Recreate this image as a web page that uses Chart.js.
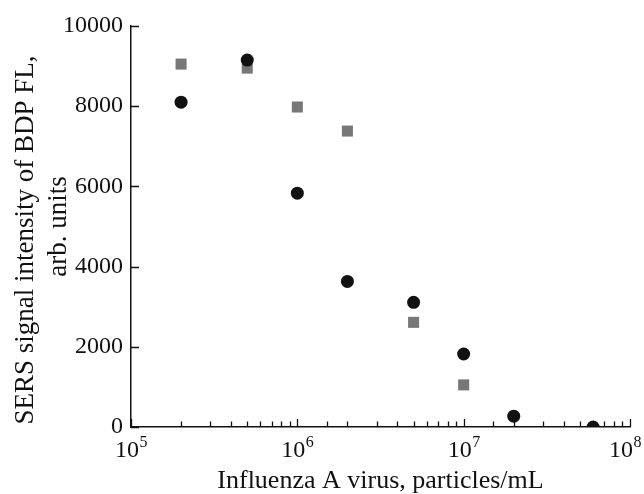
<!DOCTYPE html>
<html>
<head>
<meta charset="utf-8">
<script src="https://cdn.jsdelivr.net/npm/chart.js@4/dist/chart.umd.min.js"></script>
<style>
  html, body { margin: 0; padding: 0; background: #fff; }
  canvas { display: block; }
</style>
</head>
<body>
<canvas id="chart" width="644" height="494"></canvas>
<script>
// virus concentration, particles/mL
const concentrations = [2e5, 5e5, 1e6, 2e6, 5e6, 1e7, 2e7, 6e7];
// black circles
const circleValues = [8100, 9150, 5830, 3630, 3110, 1820, 270, 0];
// gray squares (last two hidden behind circles)
const squareValues = [9050, 8950, 7980, 7380, 2610, 1050, null, null];
const yTicks = [0, 2000, 4000, 6000, 8000, 10000];
const xTitle = 'Influenza A virus, particles/mL';
// trailing spaces nudge the first line down like in the original figure
const yTitle = ['SERS signal intensity of BDP FL,    ', 'arb. units'];

const serif = "'Liberation Serif', 'Times New Roman', 'DejaVu Serif', serif";

function toPoints(values) {
  return concentrations.map((x, i) => ({ x: x, y: values[i] })).filter(p => p.y !== null);
}

function isDecade(v) {
  const lg = Math.log10(v);
  return Math.abs(lg - Math.round(lg)) < 1e-9;
}

// ticks drawn inward from the axes, plus 10^n labels with real superscripts
const innerTicks = {
  id: 'innerTicks',
  beforeDatasetsDraw(chart) {
    const ctx = chart.ctx;
    const xs = chart.scales.x;
    const ys = chart.scales.y;
    ctx.save();
    ctx.strokeStyle = '#111';
    ctx.lineWidth = 1.3;
    ctx.beginPath();
    xs.ticks.forEach(t => {
      const px = Math.round(xs.getPixelForValue(t.value)) + 0.5;
      const len = isDecade(t.value) ? 8 : 5.5;
      ctx.moveTo(px, xs.top);
      ctx.lineTo(px, xs.top - len);
    });
    ys.ticks.forEach(t => {
      const py = Math.round(ys.getPixelForValue(t.value)) + 0.5;
      ctx.moveTo(ys.right, py);
      ctx.lineTo(ys.right + 8, py);
    });
    ctx.stroke();
    ctx.restore();
  },
  afterDraw(chart) {
    const ctx = chart.ctx;
    const xs = chart.scales.x;
    ctx.save();
    ctx.fillStyle = '#111';
    ctx.textBaseline = 'alphabetic';
    ctx.textAlign = 'left';
    xs.ticks.forEach(t => {
      if (!isDecade(t.value)) return;
      const exp = String(Math.round(Math.log10(t.value)));
      const px = xs.getPixelForValue(t.value);
      ctx.font = '24px ' + serif;
      const wb = ctx.measureText('10').width;
      ctx.font = '16px ' + serif;
      const we = ctx.measureText(exp).width;
      // keep the last label inside the canvas
      const x0 = Math.min(px - (wb + we) / 2, chart.width - 3 - wb - we);
      ctx.font = '24px ' + serif;
      ctx.fillText('10', x0, xs.top + 30);
      ctx.font = '16px ' + serif;
      ctx.fillText(exp, x0 + wb + 0.5, xs.top + 20);
    });
    ctx.restore();
  }
};

new Chart(document.getElementById('chart'), {
  type: 'scatter',
  data: {
    datasets: [
      {
        label: 'circles',
        data: toPoints(circleValues),
        order: 0,
        pointStyle: 'circle',
        pointRadius: 6.5,
        pointBorderWidth: 0,
        backgroundColor: '#111',
        borderColor: '#111'
      },
      {
        label: 'squares',
        data: toPoints(squareValues),
        order: 1,
        pointStyle: 'rect',
        pointRadius: 7.8,
        pointBorderWidth: 0,
        backgroundColor: '#777',
        borderColor: '#777'
      }
    ]
  },
  options: {
    responsive: false,
    animation: false,
    layout: { padding: { left: 0, top: 26, right: 14, bottom: 0 } },
    plugins: {
      legend: { display: false },
      tooltip: { enabled: false }
    },
    scales: {
      x: {
        type: 'logarithmic',
        min: 1e5,
        max: 1e8,
        grid: { display: false, drawTicks: false },
        border: { display: true, color: '#111', width: 1.5 },
        ticks: { display: false, autoSkip: false },
        title: {
          display: true,
          text: xTitle,
          color: '#111',
          font: { family: serif, size: 26, lineHeight: 1 },
          padding: { top: 0, bottom: 0 }
        },
        afterFit(scale) { scale.height = 67; scale.paddingLeft = 0; scale.paddingRight = 0; }
      },
      y: {
        min: 0,
        max: 10000,
        afterBuildTicks(scale) { scale.ticks = yTicks.map(v => ({ value: v })); },
        grid: { display: false, drawTicks: false },
        border: { display: true, color: '#111', width: 1.5 },
        ticks: {
          padding: 8,
          color: '#111',
          font: { family: serif, size: 24 },
          callback(value) { return String(value); }
        },
        title: {
          display: true,
          text: yTitle,
          color: '#111',
          font: { family: serif, size: 27, lineHeight: 1.22 },
          padding: { top: 9.5, bottom: 0 }
        },
        afterFit(scale) { scale.width = 131; scale.paddingTop = 0; scale.paddingBottom = 0; }
      }
    }
  },
  plugins: [innerTicks]
});
</script>
</body>
</html>
